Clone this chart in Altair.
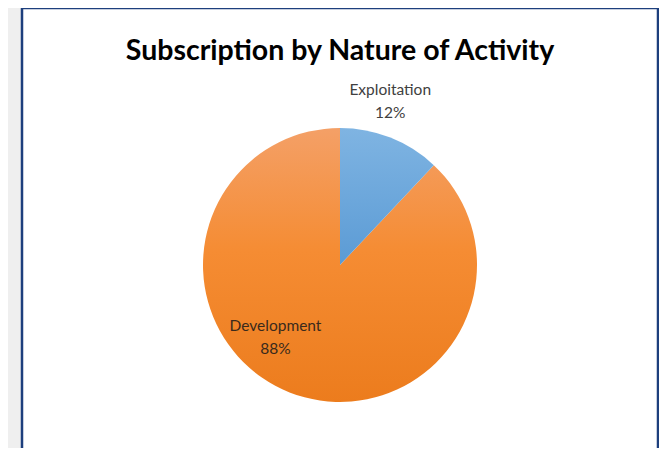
import altair as alt
import pandas as pd

categories = ["Exploitation", "Development"]
values = [12, 88]
pct_labels = ["12%", "88%"]

df = pd.DataFrame({
    "category": categories,
    "value": values,
    "label": [c + "\n" + p for c, p in zip(categories, pct_labels)],
    "order": list(range(len(categories))),
})

blue_grad = alt.LinearGradient(
    gradient="linear", x1=0, y1=0, x2=0, y2=1,
    stops=[alt.GradientStop(offset=0, color="#7fb4e2"),
           alt.GradientStop(offset=1, color="#5b9bd5")])
orange_grad = alt.LinearGradient(
    gradient="linear", x1=0, y1=0, x2=0, y2=1,
    stops=[alt.GradientStop(offset=0, color="#f4a067"),
           alt.GradientStop(offset=0.45, color="#f58c33"),
           alt.GradientStop(offset=1, color="#ec7c1d")])

base = (
    alt.Chart(df)
    .transform_joinaggregate(total="sum(value)")
    .transform_window(cum="sum(value)", sort=[alt.SortField("order")], frame=[None, 0])
    .transform_calculate(
        start="2*PI*(datum.cum - datum.value)/datum.total",
        end="2*PI*datum.cum/datum.total",
        mid="2*PI*(datum.cum - datum.value/2)/datum.total",
    )
)

# invisible cartesian layer so that the view frame (white panel + border) is drawn
frame = alt.Chart(df).mark_point(opacity=0).encode(
    x=alt.X("value:Q", axis=None), y=alt.Y("value:Q", axis=None))

R = 137
arc_expl = base.transform_filter(alt.datum.category == "Exploitation").mark_arc(
    radius=R, fill=blue_grad).encode(
    theta=alt.Theta("start:Q", scale=None), theta2="end:Q")
arc_dev = base.transform_filter(alt.datum.category == "Development").mark_arc(
    radius=R, fill=orange_grad).encode(
    theta=alt.Theta("start:Q", scale=None), theta2="end:Q")

txt_expl = base.transform_filter(alt.datum.category == "Exploitation").mark_text(
    radius=188, dx=-19, lineBreak="\n", lineHeight=23, font="Lato", fontSize=15.5,
    color="#404040", baseline="middle").encode(
    theta=alt.Theta("mid:Q", scale=None), text="label:N")
txt_dev = base.transform_filter(alt.datum.category == "Development").mark_text(
    radius=91, dx=-31, dy=-24, lineBreak="\n", lineHeight=23, font="Lato", fontSize=15.5,
    color="#3a2a1c", baseline="middle").encode(
    theta=alt.Theta("mid:Q", scale=None), text="label:N")

chart = alt.layer(frame, arc_dev, arc_expl, txt_expl, txt_dev).properties(
    width=636, height=514,
    title=alt.TitleParams("Subscription by Nature of Activity", font="Lato",
                          fontSize=28.5, fontWeight="bold", color="#000000",
                          anchor="middle", offset=-57),
    autosize=alt.AutoSizeParams(type="none"),
    padding={"left": 14, "top": 0, "right": 1, "bottom": -74},
    background="#efefef",
    view=alt.ViewBackground(fill="#ffffff", fillOpacity=1, stroke="#1d3f7d", strokeWidth=2.5),
)

chart.save("out.html", embed_options={"renderer": "svg", "actions": False})
